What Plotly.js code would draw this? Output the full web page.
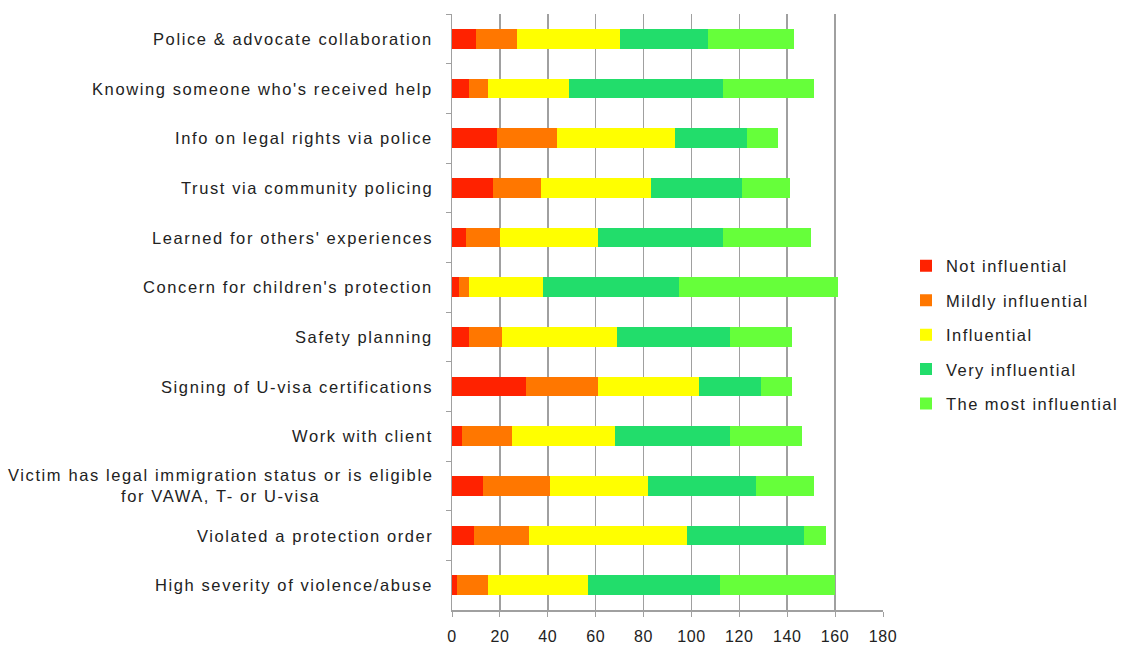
<!DOCTYPE html>
<html><head><meta charset="utf-8">
<script src="https://cdn.plot.ly/plotly-3.0.1.min.js"></script>
<style>
body{margin:0;background:#fff}
#chart{width:1124px;height:646px}
svg text{letter-spacing:1.6px}
svg .xtick text{letter-spacing:0.6px}
svg .legendtext{letter-spacing:1.45px}
</style>
</head><body><div id="chart"></div>
<script>
const categories = [
  "Police & advocate collaboration",
  "Knowing someone who's received help",
  "Info on legal rights via police",
  "Trust via community policing",
  "Learned for others' experiences",
  "Concern for children's protection",
  "Safety planning",
  "Signing of U-visa certifications",
  "Work with client",
  "Victim has legal immigration status or is eligible<br>for VAWA, T- or U-visa",
  "Violated a protection order",
  "High severity of violence/abuse"
];
const seriesNames = ["Not influential","Mildly influential","Influential","Very influential","The most influential"];
const notInfluential   = [10, 7, 19, 17, 6, 3, 7, 31, 4, 13, 9, 2];
const mildlyInfluential= [17, 8, 25, 20, 14, 4, 14, 30, 21, 28, 23, 13];
const influential      = [43, 34, 49, 46, 41, 31, 48, 42, 43, 41, 66, 42];
const veryInfluential  = [37, 64, 30, 38, 52, 57, 47, 26, 48, 45, 49, 55];
const mostInfluential  = [36, 38, 13, 20, 37, 66, 26, 13, 30, 24, 9, 48];
const xTicks = [0,20,40,60,80,100,120,140,160,180];

const colors = ["#ff2200","#ff7700","#ffff00","#22dd6b","#66ff3a"];
const values = [notInfluential, mildlyInfluential, influential, veryInfluential, mostInfluential];
const traces = values.map((v,i)=>({
  type:"bar", orientation:"h", x:v, y:categories, name:seriesNames[i],
  marker:{color:colors[i], line:{width:0}}, legendgroup:"g"+i
}));
const annotations = categories.map(c=>({
  text:c, xref:"paper", yref:"y", x:0, y:c, xanchor:"right", yanchor:"middle",
  xshift:-17, align:"center", showarrow:false,
  font:{size:16.5, color:"#222"}
}));
const layout = {
  width:1124, height:646,
  margin:{l:452, r:241, t:14, b:36, autoexpand:false},
  barmode:"stack", bargap:0.6,
  paper_bgcolor:"#fff", plot_bgcolor:"#fff",
  font:{family:"Liberation Sans, Arial, sans-serif", size:16, color:"#222"},
  xaxis:{range:[0,180], tickvals:xTicks, showgrid:true, gridcolor:"#a0a0a0", gridwidth:1.5,
         zeroline:false, showline:true, linecolor:"#a0a0a0", linewidth:1.5,
         ticks:"outside", ticklen:5, tickcolor:"#a0a0a0", tickfont:{size:16}, ticklabelstandoff:6},
  yaxis:{autorange:"reversed", showline:true, linecolor:"#a0a0a0", linewidth:1.5,
         ticks:"outside", tickson:"boundaries", ticklen:5, tickcolor:"#a0a0a0",
         showgrid:false, showticklabels:false},
  annotations:annotations,
  legend:{x:(906-452)/431, y:(610-335)/596, xanchor:"left", yanchor:"middle", traceorder:"grouped",
          tracegroupgap:10, itemwidth:30, font:{size:16.5}},
  showlegend:true
};
Plotly.newPlot("chart", traces, layout, {displayModeBar:false, staticPlot:true});
</script></body></html>
